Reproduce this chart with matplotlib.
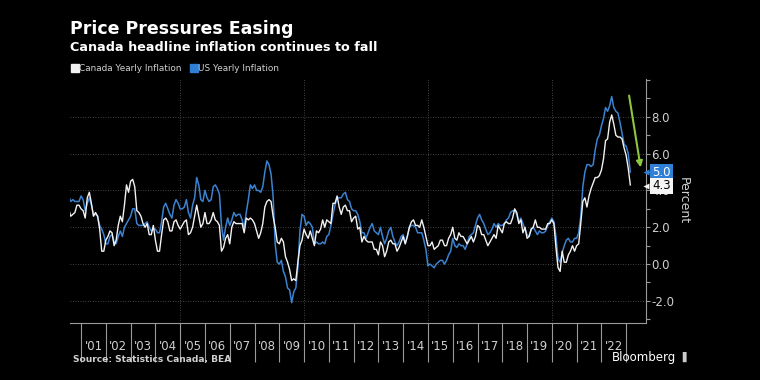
import matplotlib
matplotlib.use("Agg")
import matplotlib.pyplot as plt
from matplotlib.lines import Line2D
import matplotlib.transforms as mtransforms
import numpy as np

# monthly y/y inflation, Jul 2000 .. Mar 2023
start_year = 2000
start_month = 7
canada = [
    3.0, 2.6, 2.7, 2.8, 3.2, 3.2,  # 2000 H2
    3.0, 2.9, 2.5, 3.6, 3.9, 3.3, 2.6, 2.8, 2.6, 1.9, 0.7, 0.7,
    1.3, 1.5, 1.8, 1.7, 1.0, 1.3, 2.1, 2.6, 2.3, 3.2, 4.3, 3.9,
    4.5, 4.6, 4.2, 2.9, 2.8, 2.6, 2.2, 2.0, 2.2, 1.6, 1.6, 2.1,
    1.3, 0.7, 0.7, 1.6, 2.4, 2.5, 2.3, 1.8, 1.8, 2.3, 2.4, 2.1,
    1.9, 2.1, 2.3, 2.4, 1.6, 1.7, 2.0, 2.6, 3.2, 2.6, 2.0, 2.2,
    2.8, 2.2, 2.2, 2.4, 2.8, 2.4, 2.3, 2.1, 0.7, 0.9, 1.4, 1.6,
    1.1, 2.0, 2.3, 2.2, 2.2, 2.2, 2.2, 1.7, 2.5, 2.4, 2.5, 2.4,
    2.2, 1.8, 1.4, 1.7, 2.2, 3.1, 3.4, 3.5, 3.4, 2.6, 2.0, 1.2,
    1.1, 1.4, 1.2, 0.4, 0.1, -0.3, -0.9, -0.8, -0.9, 0.1, 1.0, 1.3,
    1.9, 1.6, 1.4, 1.8, 1.4, 1.0, 1.8, 1.7, 1.9, 2.4, 2.0, 2.4,
    2.3, 2.2, 3.3, 3.3, 3.7, 3.1, 2.7, 3.1, 3.2, 2.9, 2.9, 2.3,
    2.5, 2.6, 1.9, 2.0, 1.2, 1.5, 1.3, 1.2, 1.2, 1.2, 0.8, 0.8,
    0.5, 1.2, 1.0, 0.4, 0.7, 1.2, 1.3, 1.1, 1.1, 0.7, 0.9, 1.2,
    1.5, 1.1, 1.5, 2.0, 2.3, 2.4, 2.1, 2.1, 2.0, 2.4, 2.0, 1.5,
    1.0, 1.0, 1.2, 0.8, 0.9, 1.0, 1.3, 1.3, 1.0, 1.0, 1.4, 1.6,
    2.0, 1.4, 1.3, 1.7, 1.5, 1.5, 1.3, 1.1, 1.3, 1.5, 1.2, 1.5,
    2.1, 2.0, 1.6, 1.6, 1.3, 1.0, 1.2, 1.4, 1.6, 1.4, 2.1, 1.9,
    1.7, 2.2, 2.3, 2.2, 2.2, 2.5, 3.0, 2.8, 2.2, 2.4, 1.7, 2.0,
    1.4, 1.5, 1.9, 2.0, 2.4, 2.0, 2.0, 1.9, 1.9, 1.9, 2.2, 2.2,
    2.4, 2.2, 0.9, -0.2, -0.4, 0.7, 0.1, 0.1, 0.5, 0.7, 1.0, 0.7,
    1.0, 1.1, 2.2, 3.4, 3.6, 3.1, 3.7, 4.1, 4.4, 4.7, 4.7, 4.8,
    5.1, 5.7, 6.7, 6.8, 7.7, 8.1, 7.6, 7.0, 6.9, 6.9, 6.8, 6.3,
    5.9, 5.2, 4.3,
]
us = [
    3.7, 3.4, 3.5, 3.4, 3.4, 3.4,  # 2000 H2
    3.7, 3.5, 2.9, 3.3, 3.6, 3.2, 2.7, 2.7, 2.6, 2.1, 1.9, 1.6,
    1.1, 1.1, 1.5, 1.6, 1.2, 1.1, 1.5, 1.8, 1.5, 2.0, 2.2, 2.4,
    2.6, 3.0, 3.0, 2.2, 2.1, 2.1, 2.1, 2.2, 2.3, 2.0, 1.8, 1.9,
    1.9, 1.7, 1.7, 2.3, 3.1, 3.3, 3.0, 2.7, 2.5, 3.2, 3.5, 3.3,
    3.0, 3.0, 3.1, 3.5, 2.8, 2.5, 3.2, 3.6, 4.7, 4.3, 3.5, 3.4,
    4.0, 3.6, 3.4, 3.5, 4.2, 4.3, 4.1, 3.8, 2.1, 1.3, 2.0, 2.5,
    2.1, 2.4, 2.8, 2.6, 2.7, 2.7, 2.4, 2.0, 2.8, 3.5, 4.3, 4.1,
    4.3, 4.0, 4.0, 3.9, 4.2, 5.0, 5.6, 5.4, 4.9, 3.7, 1.1, 0.1,
    0.0, 0.2, -0.4, -0.7, -1.3, -1.4, -2.1, -1.5, -1.3, -0.2, 1.8, 2.7,
    2.6, 2.1, 2.3, 2.2, 2.0, 1.1, 1.2, 1.1, 1.1, 1.2, 1.1, 1.5,
    1.6, 2.1, 2.7, 3.2, 3.6, 3.6, 3.6, 3.8, 3.9, 3.5, 3.4, 3.0,
    2.9, 2.9, 2.7, 2.3, 1.7, 1.7, 1.4, 1.7, 2.0, 2.2, 1.8, 1.7,
    1.6, 2.0, 1.5, 1.1, 1.4, 1.8, 2.0, 1.5, 1.2, 1.0, 1.2, 1.5,
    1.6, 1.1, 1.5, 2.0, 2.1, 2.1, 2.0, 1.7, 1.7, 1.7, 1.3, 0.8,
    -0.1, 0.0, -0.1, -0.2, 0.0, 0.1, 0.2, 0.2, 0.0, 0.2, 0.5, 0.7,
    1.4, 1.0, 0.9, 1.1, 1.0, 1.0, 0.8, 1.1, 1.5, 1.6, 1.7, 2.1,
    2.5, 2.7, 2.4, 2.2, 1.9, 1.6, 1.7, 1.9, 2.2, 2.0, 2.2, 2.1,
    2.1, 2.2, 2.4, 2.5, 2.8, 2.9, 2.9, 2.7, 2.3, 2.5, 2.2, 1.9,
    1.6, 1.5, 1.9, 2.0, 1.8, 1.6, 1.8, 1.7, 1.7, 1.8, 2.1, 2.3,
    2.5, 2.3, 1.5, 0.3, 0.1, 0.6, 1.0, 1.3, 1.4, 1.2, 1.2, 1.4,
    1.4, 1.7, 2.6, 4.2, 5.0, 5.4, 5.4, 5.3, 5.4, 6.2, 6.8, 7.0,
    7.5, 7.9, 8.5, 8.3, 8.6, 9.1, 8.5, 8.3, 8.2, 7.7, 7.1, 6.5,
    6.4, 6.0, 5.0,
]
years = list(range(2001, 2023))
year_labels = ["'%02d" % (y % 100) for y in years]

t = start_year + (start_month - 1) / 12 + np.arange(len(canada)) / 12

bg = "#000000"
white = "#f2f2f2"
blue = "#3b82d0"
grey = "#9a9a9a"
txt = "#d0d0d0"

fig = plt.figure(figsize=(7.6, 3.8), dpi=100, facecolor=bg)
ax = fig.add_axes([0.092, 0.15, 0.758, 0.642], facecolor=bg)

ax.plot(t, us, color=blue, lw=1.1)
ax.plot(t, canada, color=white, lw=1.0)

ax.set_xlim(2000.55, 2023.8)
ax.set_ylim(-3.2, 10.05)

# grid
for yv in [-2, 0, 2, 4, 6, 8]:
    ax.axhline(yv, color="#5a5a5a", lw=0.6, ls=(0, (1, 2)), zorder=0)
for xv in [2005, 2010, 2015, 2020]:
    ax.axvline(xv, color="#5a5a5a", lw=0.6, ls=(0, (1, 2)), zorder=0)

# spines
for s in ["top", "left"]:
    ax.spines[s].set_visible(False)
for s in ["bottom", "right"]:
    ax.spines[s].set_color(grey)
    ax.spines[s].set_linewidth(0.8)

# y axis on the right
ax.yaxis.tick_right()
ax.set_yticks([-2, 0, 2, 4, 6, 8])
ax.set_yticklabels(["-2.0", "0.0", "2.0", "4.0", "6.0", "8.0"])
ax.set_yticks([-3, -1, 1, 3, 5, 7, 9, 10], minor=True)
ax.tick_params(axis="y", which="both", colors=grey, labelcolor=txt,
               length=3, width=0.8, labelsize=8.5, pad=1)

# x axis: year separators and centered labels
ax.set_xticks(years + [2023])
ax.set_xticklabels([])
ax.tick_params(axis="x", which="major", colors=grey, length=28, width=0.8)
ax.set_xticks([y + 0.5 for y in years], minor=True)
ax.set_xticklabels(year_labels, minor=True)
ax.tick_params(axis="x", which="minor", length=0, labelcolor=txt,
               labelsize=8.5, pad=12)

ax.text(1.064, 0.5, "Percent", transform=ax.transAxes, rotation=270,
        ha="center", va="center", color=txt, fontsize=9)

# last-value tags
tagtr = mtransforms.blended_transform_factory(ax.transAxes, ax.transData)
for val, yv, fc, tc in [(us[-1], 5.0, "#2f7fd6", "white"),
                        (canada[-1], 4.25, "#f5f5f5", "black")]:
    ax.annotate("%.1f" % val, xy=(1.0, yv), xycoords=tagtr,
                xytext=(4.5, 0), textcoords="offset points", va="center",
                ha="left", color=tc, fontsize=8.5, zorder=5,
                bbox=dict(boxstyle="square,pad=0.15", fc=fc, ec="none"),
                annotation_clip=False)
    ax.plot([1.0], [yv], transform=tagtr, marker="<", ms=4.5, color=fc,
            mec="none", clip_on=False, zorder=5)

# green arrow
ax.annotate("", xy=(2023.6, 5.1), xytext=(2023.1, 9.3),
            arrowprops=dict(arrowstyle="-|>", color="#8dc63f", lw=1.5,
                            mutation_scale=9))

# legend
handles = [Line2D([], [], marker="s", ls="none", color=white, markersize=5.5),
           Line2D([], [], marker="s", ls="none", color="#2f7fd6", markersize=5.5)]
leg = fig.legend(handles, ["Canada Yearly Inflation", "US Yearly Inflation"],
                 loc="center left", bbox_to_anchor=(0.095, 0.82), ncol=2,
                 frameon=False, fontsize=6.4, handlelength=0.6,
                 handletextpad=0.15, columnspacing=1.1, borderpad=0,
                 borderaxespad=0)
for tx in leg.get_texts():
    tx.set_color(txt)

fig.text(0.092, 0.91, "Price Pressures Easing", color="white",
         fontsize=12.5, fontweight="bold")
fig.text(0.092, 0.865, "Canada headline inflation continues to fall",
         color="white", fontsize=9.2, fontweight="bold")
fig.text(0.096, 0.048, "Source: Statistics Canada, BEA", color=txt,
         fontsize=6.6, fontweight="bold")
fig.text(0.805, 0.05, "Bloomberg", color="white", fontsize=8.5)
fig.text(0.892, 0.054, "\u2590", color="#cccccc", fontsize=7)

fig.savefig("out.png", dpi=100, facecolor=bg)
